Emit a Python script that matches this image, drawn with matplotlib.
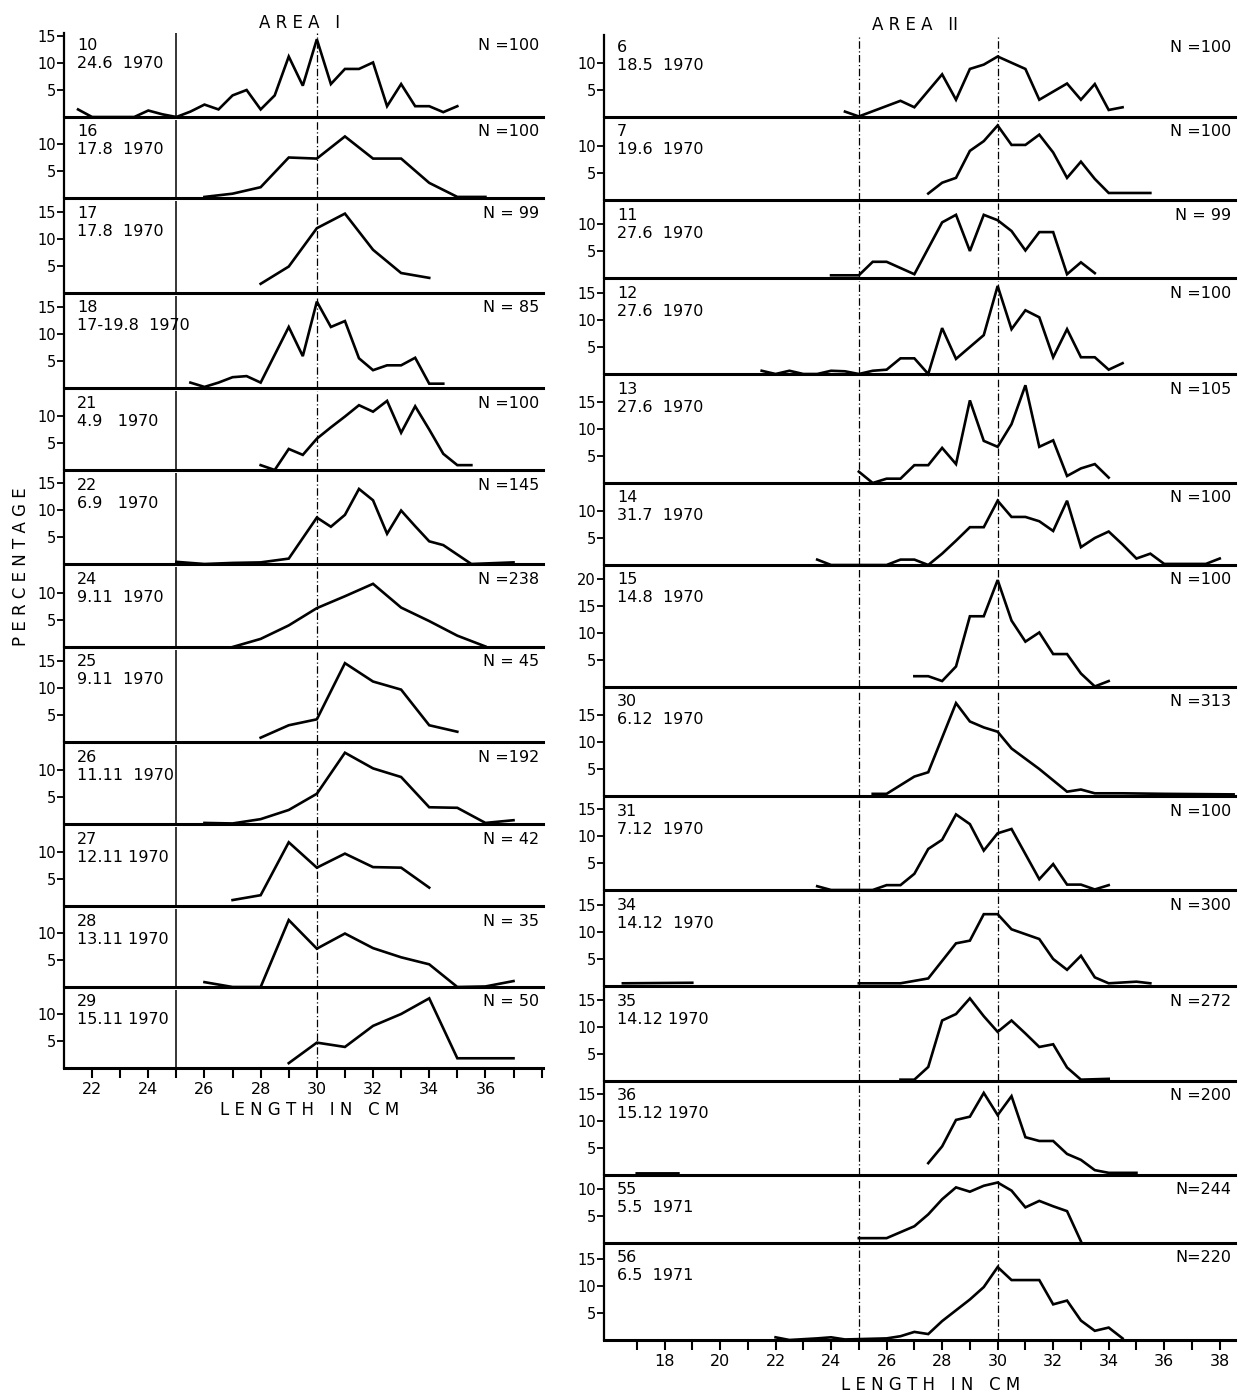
import numpy as np
import matplotlib
matplotlib.use('Agg')
import matplotlib.pyplot as plt

# ── Length-frequency data (percent per length class) ────

nan = np.nan

# Area I
x10 = [21.5, 22, 22.5, 23, 23.5, 24, 24.5, 25, 25.5, 26, 26.5, 27, 27.5, 28, 28.5, 29,
       29.5, 30, 30.5, 31, 31.5, 32, 32.5, 33, 33.5, 34, 34.5, 35]
y10 = [1.4, 0, 0, 0, 0, 1.2, 0.5, 0, 1.0, 2.3, 1.4, 4.0, 5.0, 1.4, 4.0, 11.2,
       5.8, 14.4, 6.1, 8.9, 8.9, 10.1, 2.0, 6.1, 2.0, 2.0, 0.9, 2.0]
x16 = [26, 27, 28, 29, 30, 31, 32, 33, 34, 35, 36]
y16 = [0.2, 0.8, 2.0, 7.5, 7.3, 11.4, 7.3, 7.3, 2.8, 0.2, 0.2]
x17 = [28, 29, 30, 31, 32, 33, 34]
y17 = [1.7, 4.9, 12.0, 14.7, 8.0, 3.7, 2.8]
x18 = [25.5, 26, 26.5, 27, 27.5, 28, 29, 29.5, 30, 30.5, 31, 31.5, 32, 32.5, 33, 33.5, 34, 34.5]
y18 = [1.0, 0.2, 1.0, 2.0, 2.2, 1.0, 11.3, 5.9, 16.0, 11.3, 12.4, 5.5, 3.3, 4.2, 4.2, 5.6, 0.8, 0.8]
x21 = [28, 28.5, 29, 29.5, 30, 30.5, 31, 31.5, 32, 32.5, 33, 33.5, 34, 34.5, 35, 35.5]
y21 = [0.9, 0, 3.9, 2.8, 5.8, 7.9, 9.9, 12.0, 10.8, 12.8, 6.9, 11.8, 7.5, 3.0, 0.9, 0.9]
x22 = [25, 26, 27, 28, 29, 30, 30.5, 31, 31.5, 32, 32.5, 33, 33.5, 34, 34.5, 35.5, 36.5, 37]
y22 = [0.4, 0, 0.2, 0.3, 1.0, 8.6, 6.9, 9.1, 13.9, 11.8, 5.6, 9.9, 7.0, 4.2, 3.5, 0, 0.2, 0.3]
x24 = [27, 28, 29, 30, 31, 32, 33, 34, 35, 36]
y24 = [0, 1.5, 4.0, 7.2, 9.4, 11.7, 7.3, 4.8, 2.1, 0.1]
x25 = [28, 29, 30, 31, 32, 33, 34, 35]
y25 = [0.8, 3.1, 4.2, 14.6, 11.2, 9.7, 3.1, 1.9]
x26 = [26, 27, 28, 29, 30, 31, 32, 33, 34, 35, 36, 37]
y26 = [0.2, 0.1, 0.9, 2.6, 5.6, 13.2, 10.3, 8.7, 3.1, 3.0, 0.2, 0.7]
x27 = [27, 28, 29, 30, 31, 32, 33, 34]
y27 = [1.1, 2.0, 11.8, 7.1, 9.7, 7.2, 7.1, 3.4]
x28 = [26, 27, 28, 29, 30, 31, 32, 33, 34, 35, 36, 37]
y28 = [0.9, 0, 0, 12.4, 7.1, 9.9, 7.2, 5.5, 4.2, 0, 0.1, 1.1]
x29 = [29, 30, 31, 32, 33, 34, 35, 36, 37]
y29 = [0.9, 4.7, 3.9, 7.8, 10.0, 12.9, 1.8, 1.8, 1.8]

# Area II
x06 = [24.5, 25, 26.5, 27, 28, 28.5, 29, 29.5, 30, 31, 31.5, 32.5, 33, 33.5, 34, 34.5]
y06 = [1.0, 0.1, 3.0, 1.8, 7.9, 3.2, 8.9, 9.7, 11.2, 8.9, 3.2, 6.2, 3.2, 6.1, 1.3, 1.8]
x07 = [27.5, 28, 28.5, 29, 29.5, 30, 30.5, 31, 31.5, 32, 32.5, 33, 33.5, 34, 35.5]
y07 = [1.2, 3.2, 4.1, 9.1, 10.9, 13.8, 10.2, 10.2, 12.1, 8.8, 4.1, 7.1, 3.9, 1.3, 1.3]
x11 = [24, 25, 25.5, 26, 27, 28, 28.5, 29, 29.5, 30, 30.5, 31, 31.5, 32, 32.5, 33, 33.5]
y11 = [0.5, 0.5, 3.0, 3.0, 0.7, 10.3, 11.7, 5.0, 11.7, 10.7, 8.7, 5.1, 8.5, 8.5, 0.7, 2.9, 0.9]
x12 = [21.5, 22, 22.5, 23, 23.5, 24, 24.5, 25, 25.5, 26, 26.5, 27, 27.5, 28, 28.5, 29,
       29.5, 30, 30.5, 31, 31.5, 32, 32.5, 33, 33.5, 34, 34.5]
y12 = [0.6, 0, 0.6, 0, 0, 0.6, 0.5, 0, 0.6, 0.8, 2.9, 2.9, 0, 8.5, 2.8, 5.0,
       7.2, 16.3, 8.3, 11.8, 10.5, 3.1, 8.3, 3.1, 3.1, 0.8, 2.0]
x13 = [25, 25.5, 26, 26.5, 27, 27.5, 28, 28.5, 29, 29.5, 30, 30.5, 31, 31.5, 32, 32.5, 33, 33.5, 34]
y13 = [2.1, 0, 0.8, 0.8, 3.3, 3.3, 6.5, 3.5, 15.3, 7.8, 6.7, 10.9, 18.1, 6.7, 7.9, 1.3, 2.7, 3.5, 1.0]
x14 = [23.5, 24, 26, 26.5, 27, 27.5, 28, 28.5, 29, 29.5, 30, 30.5, 31, 31.5, 32, 32.5,
       33, 33.5, 34, 34.5, 35, 35.5, 36, 37.5, 38]
y14 = [1.0, 0, 0, 1.0, 1.0, 0, 2.1, 4.5, 7.0, 7.0, 11.9, 8.9, 8.9, 8.1, 6.3, 11.9,
       3.3, 5.0, 6.2, 3.8, 1.2, 2.1, 0.2, 0.2, 1.2]
x15 = [27, 27.5, 28, 28.5, 29, 29.5, 30, 30.5, 31, 31.5, 32, 32.5, 33, 33.5, 34]
y15 = [2.0, 2.0, 1.1, 3.8, 13.1, 13.1, 19.8, 12.3, 8.4, 10.1, 6.1, 6.1, 2.5, 0.1, 1.1]
x30 = [25.5, 26, 27, 27.5, 28.5, 29, 29.5, 30, 30.5, 31.5, 32.5, 33, 33.5, 34.5, 36, 38.5]
y30 = [0.4, 0.4, 3.6, 4.4, 17.2, 13.8, 12.7, 11.9, 8.8, 5.0, 0.8, 1.2, 0.5, 0.5, 0.4, 0.3]
x31 = [23.5, 24, 25.5, 26, 26.5, 27, 27.5, 28, 28.5, 29, 29.5, 30, 30.5, 31.5, 32, 32.5, 33, 33.5, 34]
y31 = [0.7, 0, 0, 0.9, 0.9, 3.0, 7.6, 9.3, 14.0, 12.2, 7.3, 10.5, 11.3, 2.0, 4.8, 1.0, 1.0, 0.1, 0.9]
x34 = [16.5, 19, nan, 25, 26.5, 27.5, 28.5, 29, 29.5, 30, 30.5, 31.5, 32, 32.5, 33, 33.5, 34, 35, 35.5]
y34 = [0.5, 0.6, nan, 0.5, 0.5, 1.4, 7.9, 8.4, 13.3, 13.3, 10.5, 8.7, 5.0, 3.0, 5.6, 1.6, 0.5, 0.8, 0.5]
x35 = [26.5, 27, 27.5, 28, 28.5, 29, 29.5, 30, 30.5, 31, 31.5, 32, 32.5, 33, 34]
y35 = [0.25, 0.25, 2.6, 11.2, 12.4, 15.3, 12.0, 9.1, 11.2, 8.8, 6.3, 6.8, 2.5, 0.25, 0.4]
x36 = [17, 18.5, nan, 27.5, 28, 28.5, 29, 29.5, 30, 30.5, 31, 31.5, 32, 32.5, 33, 33.5, 34, 35]
y36 = [0.3, 0.3, nan, 2.2, 5.3, 10.2, 10.8, 15.2, 11.1, 14.6, 7.0, 6.3, 6.3, 3.9, 2.8, 0.9, 0.4, 0.4]
x55 = [25, 26, 27, 27.5, 28, 28.5, 29, 29.5, 30, 30.5, 31, 31.5, 32, 32.5, 33]
y55 = [0.9, 0.9, 3.1, 5.3, 8.1, 10.3, 9.5, 10.6, 11.2, 9.7, 6.6, 7.8, 6.8, 5.9, 0.3]
x56 = [22, 22.5, 23.5, 24, 24.5, 26, 26.5, 27, 27.5, 28, 28.5, 29, 29.5, 30, 30.5,
       31, 31.5, 32, 32.5, 33, 33.5, 34, 34.5]
y56 = [0.5, 0, 0.3, 0.5, 0.1, 0.3, 0.7, 1.5, 1.1, 3.5, 5.5, 7.5, 9.8, 13.5, 11.1,
       11.1, 11.1, 6.6, 7.3, 3.6, 1.7, 2.3, 0.3]

# sample number, date, N
labels_1 = [("10", "24.6  1970", "N =100"), ("16", "17.8  1970", "N =100"),
            ("17", "17.8  1970", "N = 99"), ("18", "17-19.8  1970", "N = 85"),
            ("21", "4.9   1970", "N =100"), ("22", "6.9   1970", "N =145"),
            ("24", "9.11  1970", "N =238"), ("25", "9.11  1970", "N = 45"),
            ("26", "11.11  1970", "N =192"), ("27", "12.11 1970", "N = 42"),
            ("28", "13.11 1970", "N = 35"), ("29", "15.11 1970", "N = 50")]
labels_2 = [("6", "18.5  1970", "N =100"), ("7", "19.6  1970", "N =100"),
            ("11", "27.6  1970", "N = 99"), ("12", "27.6  1970", "N =100"),
            ("13", "27.6  1970", "N =105"), ("14", "31.7  1970", "N =100"),
            ("15", "14.8  1970", "N =100"), ("30", "6.12  1970", "N =313"),
            ("31", "7.12  1970", "N =100"), ("34", "14.12  1970", "N =300"),
            ("35", "14.12 1970", "N =272"), ("36", "15.12 1970", "N =200"),
            ("55", "5.5  1971", "N=244"), ("56", "6.5  1971", "N=220")]
curves_1 = [(x10, y10), (x16, y16), (x17, y17), (x18, y18), (x21, y21), (x22, y22),
            (x24, y24), (x25, y25), (x26, y26), (x27, y27), (x28, y28), (x29, y29)]
curves_2 = [(x06, y06), (x07, y07), (x11, y11), (x12, y12), (x13, y13), (x14, y14),
            (x15, y15), (x30, y30), (x31, y31), (x34, y34), (x35, y35), (x36, y36),
            (x55, y55), (x56, y56)]
yticks_1 = [[5, 10, 15], [5, 10], [5, 10, 15], [5, 10, 15], [5, 10], [5, 10, 15],
            [5, 10], [5, 10, 15], [5, 10], [5, 10], [5, 10], [5, 10]]
yticks_2 = [[5, 10], [5, 10], [5, 10], [5, 10, 15], [5, 10, 15], [5, 10],
            [5, 10, 15, 20], [5, 10, 15], [5, 10, 15], [5, 10, 15], [5, 10, 15],
            [5, 10, 15], [5, 10], [5, 10, 15]]

# ── Layout (pixels) ──────────────────────────────────────────────────────────

W, H = 1253, 1395
PX_UNIT = 5.4
base_1 = [117, 198, 293, 388, 470, 564, 647, 742, 824, 906, 987, 1068]
base_2 = [117, 200, 278, 374, 483, 565, 687, 796, 890, 986, 1081, 1175, 1243, 1340]
col_1 = (64, 543, (21.0, 38.05))
col_2 = (604, 1235, (15.82, 38.55))

plt.rcParams['font.family'] = 'DejaVu Sans'
fig = plt.figure(figsize=(W / 100, H / 100), dpi=100)
fig.patch.set_facecolor('white')


def fx(px):
    return px / W


def fy(py):
    return 1 - py / H


def draw_column(col, bases, first_top, curves, labels, yticks, solid25, xlabels):
    x0, x1, xlim = col
    tops = [first_top] + [b + 3 for b in bases[:-1]]
    for i, (top, base) in enumerate(zip(tops, bases)):
        ax = fig.add_axes([fx(x0), fy(base), fx(x1 - x0), (base - top) / H])
        ax.set_xlim(*xlim)
        ax.set_ylim(0, (base - top) / PX_UNIT)
        for s in ("top", "right"):
            ax.spines[s].set_visible(False)
        ax.spines["left"].set_linewidth(1.6)
        ax.spines["bottom"].set_linewidth(2.2)

        xs, ys = curves[i]
        ax.plot(xs, ys, color="black", lw=1.9, clip_on=False, solid_joinstyle="miter")

        if solid25:
            ax.axvline(25, color="black", lw=1.1)
        else:
            ax.axvline(25, color="black", lw=0.9, ls=(0, (6, 2, 1, 2)))
        ax.axvline(30, color="black", lw=0.9, ls=(0, (6, 2, 1, 2)))

        ax.set_yticks(yticks[i])
        ax.set_yticklabels([str(t) for t in yticks[i]])
        ax.tick_params(axis="y", direction="out", length=5, width=1.3,
                       labelsize=10.5, pad=1)

        if i == len(bases) - 1:
            lo, hi = int(np.ceil(xlim[0])), int(np.floor(xlim[1]))
            ax.set_xticks([t for t in range(lo, hi + 1) if t % 2 == 0 and t in xlabels])
            ax.set_xticks([t for t in range(lo + 1, hi + 1) if t not in xlabels], minor=True)
            ax.tick_params(axis="x", which="both", direction="out", length=7, width=1.5,
                           labelsize=11.5, pad=3)
        else:
            ax.set_xticks([])

        num, date, n = labels[i]
        fig.text(fx(x0 + 13), fy(top + 12), num, fontsize=11.5, va="center", ha="left")
        fig.text(fx(x0 + 13), fy(top + 30), date, fontsize=11.5, va="center", ha="left")
        fig.text(fx(x1 - 4), fy(top + 12), n, fontsize=11.5, va="center", ha="right")


draw_column(col_1, base_1, 33, curves_1, labels_1, yticks_1, True,
            [22, 24, 26, 28, 30, 32, 34, 36])
draw_column(col_2, base_2, 35, curves_2, labels_2, yticks_2, False,
            [18, 20, 22, 24, 26, 28, 30, 32, 34, 36, 38])

fig.text(fx(300), fy(23), "A R E A   I", fontsize=12, ha="center", va="center")
fig.text(fx(915), fy(25), "A R E A   II", fontsize=12, ha="center", va="center")
fig.text(fx(21), fy(567), "P E R C E N T A G E", fontsize=12, rotation=90,
         ha="center", va="center")
fig.text(fx(310), fy(1110), "L E N G T H   I N   C M", fontsize=12, ha="center", va="center")
fig.text(fx(931), fy(1385), "L E N G T H   I N   C M", fontsize=12, ha="center", va="center")

fig.savefig("out.png", dpi=100)
